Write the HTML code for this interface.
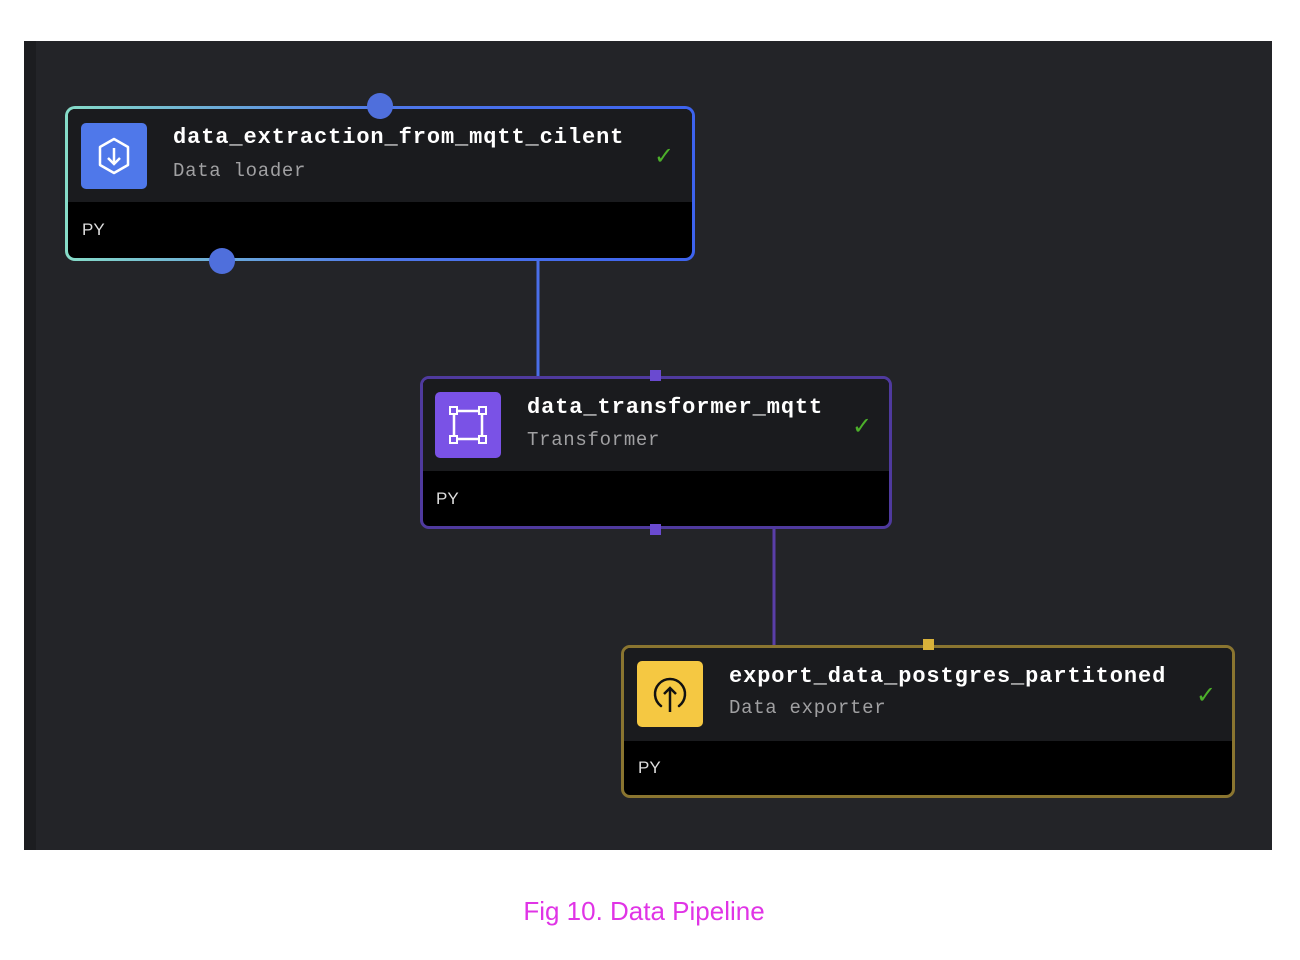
<!DOCTYPE html>
<html><head><style>
body{margin:0;width:1300px;height:960px;background:#fff;position:relative;overflow:hidden;font-family:"Liberation Mono",monospace}
.canvas{position:absolute;left:24px;top:41px;width:1248px;height:809px;background:#232428}
.strip{position:absolute;left:24px;top:41px;width:12px;height:809px;background:#1c1d20}
.node{position:absolute;box-sizing:border-box;border:3px solid;border-radius:9px;overflow:hidden;background:#000}
.head{position:absolute;left:0;top:0;right:0;background:#1a1b1e}
.icon{position:absolute;border-radius:5px}
.title{position:absolute;color:#fff;font-weight:bold;font-size:22px;letter-spacing:0.9px;white-space:nowrap}
.sub{position:absolute;color:#a0a0a2;font-size:19px;letter-spacing:0.7px;white-space:nowrap}
.py{position:absolute;color:#ddd;font-family:"Liberation Sans",sans-serif;font-size:17px}
.chk{position:absolute;color:#4caf2a;font-size:24px;font-family:"DejaVu Sans",sans-serif}
</style></head><body>
<div class="canvas"></div><div class="strip"></div>
<svg style="position:absolute;left:0;top:0" width="1300" height="960">
<line x1="538" y1="258" x2="538" y2="378" stroke="#4a6ee8" stroke-width="3"/>
<line x1="774" y1="528" x2="774" y2="646" stroke="#5a3ea8" stroke-width="3"/>
</svg>
<div style="position:absolute;left:65px;top:106px;width:630px;height:155px;border-radius:10px;background:linear-gradient(90deg,#86dcc8,#4f78ea 50%,#3d63ee)">
<div class="node" style="left:3px;top:3px;width:624px;height:149px;border:0;border-radius:7px">
 <div class="head" style="height:93px"></div>
 <div class="icon" style="left:13px;top:14px;width:66px;height:66px;background:#4f78ea">
  <svg width="66" height="66"><polygon points="33,16 47,24 47,42 33,50 19,42 19,24" fill="none" stroke="#fff" stroke-width="2.5" stroke-linejoin="round"/><line x1="33" y1="25" x2="33" y2="41" stroke="#fff" stroke-width="2.5"/><polyline points="27,35 33,41 39,35" fill="none" stroke="#fff" stroke-width="2.5"/></svg></div>
 <div class="title" style="left:105px;top:16px">data_extraction_from_mqtt_cilent</div>
 <div class="sub" style="left:105px;top:51px">Data loader</div>
 <div class="chk" style="left:586px;top:33px">✓</div>
 <div class="py" style="left:14px;top:111px">PY</div>
</div></div>
<div class="node" style="left:420px;top:376px;width:472px;height:153px;border-color:#4f3a9e">
 <div class="head" style="height:92px"></div>
 <div class="icon" style="left:12px;top:13px;width:66px;height:66px;background:#7a52e6">
  <svg width="66" height="66"><rect x="19" y="19" width="28" height="28" fill="none" stroke="#fff" stroke-width="2.5"/><g fill="#7a52e6" stroke="#fff" stroke-width="2"><rect x="15" y="15" width="7" height="7"/><rect x="44" y="15" width="7" height="7"/><rect x="15" y="44" width="7" height="7"/><rect x="44" y="44" width="7" height="7"/></g></svg></div>
 <div class="title" style="left:104px;top:16px">data_transformer_mqtt</div>
 <div class="sub" style="left:104px;top:50px">Transformer</div>
 <div class="chk" style="left:429px;top:33px">✓</div>
 <div class="py" style="left:13px;top:110px">PY</div>
</div>
<div class="node" style="left:621px;top:645px;width:614px;height:153px;border-color:#8a7530">
 <div class="head" style="height:93px"></div>
 <div class="icon" style="left:13px;top:13px;width:66px;height:66px;background:#f5c842">
  <svg width="66" height="66"><path d="M24,45 A15,15 0 1 1 42,45" fill="none" stroke="#111" stroke-width="2.5" stroke-linecap="round"/><line x1="33" y1="27" x2="33" y2="51" stroke="#111" stroke-width="2.5"/><polyline points="27,33 33,27 39,33" fill="none" stroke="#111" stroke-width="2.5"/></svg></div>
 <div class="title" style="left:105px;top:16px">export_data_postgres_partitoned</div>
 <div class="sub" style="left:105px;top:49px">Data exporter</div>
 <div class="chk" style="left:572px;top:33px">✓</div>
 <div class="py" style="left:14px;top:110px">PY</div>
</div>
<svg style="position:absolute;left:0;top:0" width="1300" height="960">
<circle cx="380" cy="106" r="13" fill="#4f6fdc"/>
<circle cx="222" cy="261" r="13" fill="#4f6fdc"/>
<rect x="650" y="370" width="11" height="11" fill="#6a4ad0"/>
<rect x="650" y="524" width="11" height="11" fill="#6a4ad0"/>
<rect x="923" y="639" width="11" height="11" fill="#d9b23a"/>
</svg>
<div style="position:absolute;left:0;width:1288px;top:896px;text-align:center;color:#e034e6;font-family:'Liberation Sans',sans-serif;font-size:26px">Fig 10. Data Pipeline</div>
</body></html>
